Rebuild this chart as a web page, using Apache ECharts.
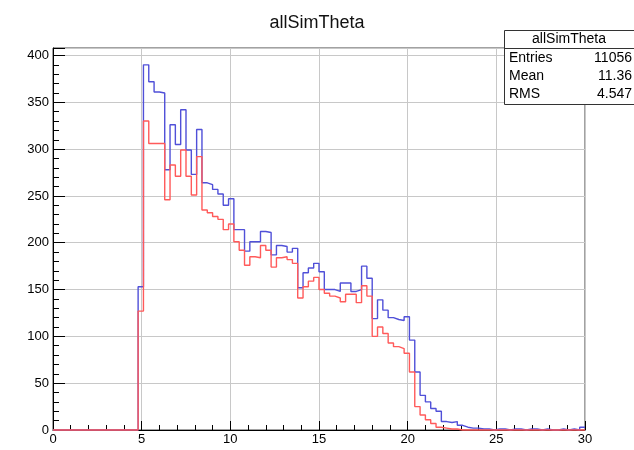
<!DOCTYPE html>
<html>
<head>
<meta charset="utf-8">
<script src="https://cdn.jsdelivr.net/npm/echarts@6/dist/echarts.min.js"></script>
<style>html,body{margin:0;padding:0;background:#fff;}#c{width:634px;height:450px;}</style>
</head>
<body>
<div id="c"></div>
<script>
// Histogram: 100 bins of width 0.3 over [0, 30]
const binWidth = 0.3;
const xMin = 0, xMax = 30;
const xTicks = [0, 5, 10, 15, 20, 25, 30];
const yTicks = [0, 50, 100, 150, 200, 250, 300, 350, 400];

// blue histogram counts (bin k starts at k*0.3)
const blueCounts = [
  0,0,0,0,0,0,0,0,0,0,
  0,0,0,0,0,0,153,390,372,361,
  360,278,326,305,342,299,273,321,264,262,
  257,252,240,247,214,214,191,201,201,212,
  211,187,197,196,190,194,152,168,173,178,
  169,150,150,148,157,157,148,150,175,162,
  119,139,128,120,118,117,121,96,62,37,
  30,23,20,9,8,9,5,3,2,2,
  1,1,0,1,1,0,1,1,0,1,
  1,0,1,0,0,1,0,1,0,3
];
// red histogram counts
const redCounts = [
  0,0,0,0,0,0,0,0,0,0,
  0,0,0,0,0,0,127,330,306,306,
  306,246,283,271,299,271,251,292,235,232,
  228,225,214,220,201,192,176,185,184,197,
  192,174,184,185,182,178,141,153,159,163,
  150,146,143,141,137,145,145,136,154,143,
  100,110,103,93,89,87,82,62,25,16,
  11,7,3,2,1,1,0,0,0,0,
  0,0,0,0,0,0,0,0,0,0,
  0,0,0,0,0,0,0,0,0,0
];

const statsTitle = 'allSimTheta';
const statsRows = [['Entries', '11056'], ['Mean', '11.36'], ['RMS', '4.547']];

function stepData(counts) {
  const d = [];
  for (let k = 0; k < counts.length; k++) d.push([k * binWidth, counts[k]]);
  d.push([xMax, counts[counts.length - 1]]);
  return d;
}

const FONT = 'Liberation Sans, Arial, sans-serif';
const chart = echarts.init(document.getElementById('c'), null, {renderer: 'canvas'});

const graphics = [
  {type: 'rect', shape: {x: 504.5, y: 30.5, width: 131, height: 74}, style: {fill: '#fff', stroke: '#333', lineWidth: 1}, z: 100},
  {type: 'line', shape: {x1: 504.5, y1: 48.5, x2: 634, y2: 48.5}, style: {stroke: '#333', lineWidth: 1}, z: 101},
  {type: 'text', x: 569, y: 39.5, style: {text: statsTitle, font: '14px ' + FONT, fill: '#000', align: 'center', verticalAlign: 'middle'}, z: 102}
];
statsRows.forEach((r, i) => {
  graphics.push({type: 'text', x: 509, y: 58 + i * 18, style: {text: r[0], font: '14px ' + FONT, fill: '#000', align: 'left', verticalAlign: 'middle'}, z: 102});
  graphics.push({type: 'text', x: 632, y: 58 + i * 18, style: {text: r[1], font: '14px ' + FONT, fill: '#000', align: 'right', verticalAlign: 'middle'}, z: 102});
});

chart.setOption({
  animation: false,
  backgroundColor: '#fff',
  title: {text: 'allSimTheta', left: 'center', top: 9, textStyle: {fontFamily: FONT, fontSize: 18, fontWeight: 'normal', color: '#111'}},
  grid: {left: 53, right: 49, top: 48, bottom: 20, show: true, borderColor: '#444', borderWidth: 1, backgroundColor: 'transparent'},
  xAxis: {
    type: 'value', min: xMin, max: xMax, interval: 5,
    axisLine: {show: true, lineStyle: {color: '#000', width: 1}},
    axisTick: {show: true, inside: true, length: 9, lineStyle: {color: '#000'}},
    minorTick: {show: true, splitNumber: 5, length: 5, lineStyle: {color: '#000'}},
    splitLine: {show: true, lineStyle: {color: '#c8c8c8', width: 1}},
    axisLabel: {fontFamily: FONT, fontSize: 13, color: '#000', margin: 3,
      formatter: v => xTicks.indexOf(v) >= 0 ? String(v) : ''}
  },
  yAxis: {
    type: 'value', min: 0, max: 408, interval: 50,
    axisLine: {show: true, lineStyle: {color: '#000', width: 1}},
    axisTick: {show: true, inside: true, length: 12, lineStyle: {color: '#000'}},
    minorTick: {show: true, splitNumber: 5, length: 6, lineStyle: {color: '#000'}},
    splitLine: {show: true, lineStyle: {color: '#c8c8c8', width: 1}},
    axisLabel: {fontFamily: FONT, fontSize: 13, color: '#000', margin: 4, showMaxLabel: false,
      formatter: v => yTicks.indexOf(v) >= 0 ? String(v) : ''}
  },
  series: [
    {type: 'line', step: 'end', data: stepData(blueCounts), symbol: 'none', clip: false,
      lineStyle: {color: '#5050d8', width: 1.4}, z: 3},
    {type: 'line', step: 'end', data: stepData(redCounts), symbol: 'none', clip: false,
      lineStyle: {color: '#ff5a5a', width: 1.4}, z: 4}
  ],
  graphic: graphics
});
</script>
</body>
</html>
